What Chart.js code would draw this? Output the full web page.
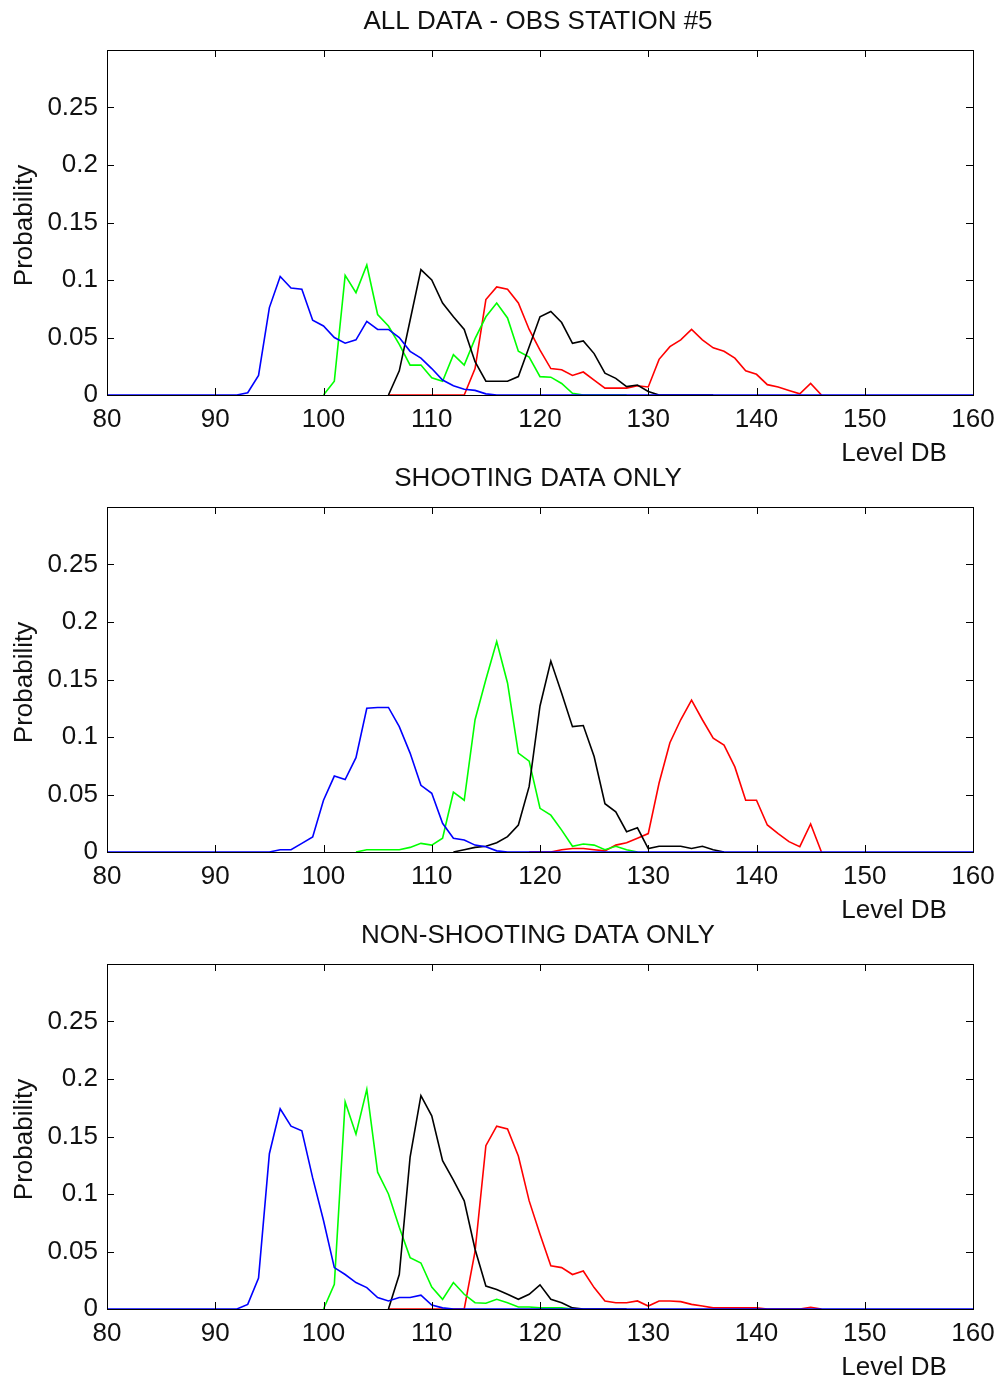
<!DOCTYPE html>
<html>
<head>
<meta charset="utf-8">
<title>Level DB probability - OBS station #5</title>
<script src="https://cdn.jsdelivr.net/npm/chart.js@4.4.1/dist/chart.umd.min.js"></script>
<style>
    body { margin: 0; background: #fff; }
    .painel { position: absolute; left: 0; width: 1000px; height: 466px; }
    canvas { display: block; }
</style>
</head>
<body>
<div class="painel" style="top: 0px"><canvas id="chartAll" width="1000" height="466"></canvas></div>
<div class="painel" style="top: 457px"><canvas id="chartShooting" width="1000" height="466"></canvas></div>
<div class="painel" style="top: 914px"><canvas id="chartNonShooting" width="1000" height="466"></canvas></div>
<script>
// eixos
const dbRange = [80, 160]
const dbTicks = [80, 90, 100, 110, 120, 130, 140, 150, 160]
const probRange = [0, 0.3]
const probTicks = [0, 0.05, 0.1, 0.15, 0.2, 0.25]
const probTickLabels = ['0', '0.05', '0.1', '0.15', '0.2', '0.25']
const panelTitles = ['ALL DATA - OBS STATION #5', 'SHOOTING DATA ONLY', 'NON-SHOOTING DATA ONLY']
const xLabel = 'Level DB'
const yLabel = 'Probability'

// all data (1 dB steps, starting at *Start)
const allBlueStart = 92
const allBlue = [0, 0.002, 0.017, 0.076, 0.103, 0.093, 0.092, 0.065, 0.060, 0.050, 0.045, 0.048, 0.064, 0.057, 0.057, 0.050, 0.038, 0.032, 0.023, 0.013, 0.008, 0.005, 0.004, 0.001, 0]
const allGreenStart = 100
const allGreen = [0, 0.012, 0.104, 0.089, 0.113, 0.070, 0.060, 0.044, 0.026, 0.026, 0.015, 0.012, 0.035, 0.026, 0.049, 0.068, 0.080, 0.067, 0.038, 0.033, 0.016, 0.0155, 0.010, 0.0015, 0, 0, 0, 0, 0]
const allBlackStart = 106
const allBlack = [0, 0.021, 0.065, 0.109, 0.100, 0.080, 0.068, 0.057, 0.029, 0.012, 0.012, 0.012, 0.016, 0.042, 0.068, 0.0726, 0.063, 0.045, 0.047, 0.036, 0.019, 0.0145, 0.0073, 0.0087, 0.003, 0, 0, 0, 0, 0, 0]
const allRedStart = 106
const allRed = [0, 0, 0, 0, 0, 0, 0, 0, 0.023, 0.083, 0.094, 0.092, 0.080, 0.057, 0.039, 0.023, 0.022, 0.017, 0.020, 0.013, 0.006, 0.006, 0.006, 0.008, 0.007, 0.031, 0.042, 0.048, 0.057, 0.048, 0.041, 0.038, 0.032, 0.021, 0.018, 0.009, 0.007, 0.004, 0.001, 0.010, 0]

// shooting data only
const shootBlueStart = 95
const shootBlue = [0, 0.002, 0.002, 0.0075, 0.013, 0.045, 0.066, 0.063, 0.082, 0.125, 0.1257, 0.1257, 0.109, 0.086, 0.058, 0.051, 0.025, 0.012, 0.0105, 0.006, 0.0046, 0.001, 0]
const shootGreenStart = 103
const shootGreen = [0, 0.002, 0.002, 0.002, 0.002, 0.004, 0.0075, 0.006, 0.012, 0.052, 0.045, 0.115, 0.150, 0.183, 0.147, 0.086, 0.079, 0.038, 0.032, 0.019, 0.005, 0.007, 0.006, 0.002, 0.005, 0.002, 0]
const shootBlackStart = 112
const shootBlack = [0, 0.002, 0.004, 0.005, 0.008, 0.0134, 0.0235, 0.057, 0.127, 0.166, 0.138, 0.109, 0.110, 0.083, 0.042, 0.035, 0.0177, 0.021, 0.003, 0.005, 0.005, 0.005, 0.003, 0.005, 0.002, 0]
const shootRedStart = 119
const shootRed = [0, 0, 0, 0.002, 0.003, 0.003, 0.002, 0.001, 0.006, 0.008, 0.012, 0.016, 0.060, 0.095, 0.115, 0.132, 0.115, 0.099, 0.093, 0.074, 0.045, 0.045, 0.0235, 0.016, 0.009, 0.0046, 0.0244, 0]

// non-shooting data only
const nonBlueStart = 92
const nonBlue = [0, 0.004, 0.027, 0.135, 0.174, 0.159, 0.155, 0.114, 0.077, 0.036, 0.030, 0.023, 0.0186, 0.010, 0.007, 0.010, 0.010, 0.012, 0.0035, 0.001, 0]
const nonGreenStart = 100
const nonGreen = [0, 0.0215, 0.180, 0.152, 0.191, 0.119, 0.100, 0.071, 0.0447, 0.040, 0.019, 0.0084, 0.023, 0.0128, 0.0055, 0.005, 0.0084, 0.0055, 0.0017, 0.0017, 0.001, 0.001, 0.001, 0]
const nonBlackStart = 106
const nonBlack = [0, 0.030, 0.132, 0.1855, 0.168, 0.129, 0.112, 0.094, 0.052, 0.020, 0.017, 0.0128, 0.0084, 0.0128, 0.021, 0.0084, 0.0055, 0.001, 0, 0, 0, 0, 0]
const nonRedStart = 106
const nonRed = [0, 0, 0, 0, 0, 0, 0, 0, 0.050, 0.142, 0.159, 0.1565, 0.133, 0.094, 0.065, 0.0375, 0.036, 0.030, 0.033, 0.0186, 0.007, 0.0055, 0.0055, 0.007, 0.0026, 0.007, 0.007, 0.0064, 0.004, 0.0026, 0.001, 0.001, 0.001, 0.001, 0.001, 0, 0, 0, 0, 0.0015, 0]

const fonte = "'Liberation Sans', Arial, Helvetica, sans-serif"
const corTexto = '#111'

function pontos(start, values) {
    return values.map((p, i) => ({ x: start + i, y: p }))
}

// blue runs along zero over the whole level range
function pontosAzul(start, values) {
    return [{ x: dbRange[0], y: 0 }, ...pontos(start, values), { x: dbRange[1], y: 0 }]
}

function serie(cor, data) {
    return {
        data: data,
        borderColor: cor,
        backgroundColor: cor,
        borderWidth: 1.6,
        pointRadius: 0,
        tension: 0,
        fill: false
    }
}

// caixa, ticks para dentro e textos no estilo matlab
const matlabAxes = {
    id: 'matlabAxes',
    afterDraw(chart, args, opts) {
        const ctx = chart.ctx
        const area = chart.chartArea
        const sx = chart.scales.x
        const sy = chart.scales.y
        const tl = 7
        ctx.save()
        ctx.strokeStyle = '#000'
        ctx.lineWidth = 1
        ctx.beginPath()
        dbTicks.forEach(v => {
            const px = Math.round(sx.getPixelForValue(v)) + 0.5
            ctx.moveTo(px, area.bottom)
            ctx.lineTo(px, area.bottom - tl)
            ctx.moveTo(px, area.top)
            ctx.lineTo(px, area.top + tl)
        })
        probTicks.forEach(v => {
            const py = Math.round(sy.getPixelForValue(v)) + 0.5
            ctx.moveTo(area.left, py)
            ctx.lineTo(area.left + tl, py)
            ctx.moveTo(area.right, py)
            ctx.lineTo(area.right - tl, py)
        })
        ctx.stroke()
        ctx.strokeRect(Math.round(area.left) + 0.5, Math.round(area.top) + 0.5,
            Math.round(area.right - area.left), Math.round(area.bottom - area.top))

        ctx.fillStyle = corTexto
        ctx.font = '26px ' + fonte
        ctx.textAlign = 'center'
        ctx.textBaseline = 'middle'
        ctx.fillText(opts.title, (area.left + area.right) / 2 - 2, 22)
        ctx.fillText(xLabel, 894, 454)

        ctx.translate(25, (area.top + area.bottom) / 2 + 3)
        ctx.rotate(-Math.PI / 2)
        ctx.fillText(yLabel, 0, 0)
        ctx.restore()
    }
}

function criarGrafico(canvasId, titulo, datasets) {
    const ctx = document.getElementById(canvasId).getContext('2d')
    return new Chart(ctx, {
        type: 'line',
        data: { datasets: datasets },
        plugins: [matlabAxes],
        options: {
            responsive: false,
            animation: false,
            devicePixelRatio: 1,
            events: [],
            layout: {
                padding: { top: 50, right: 27, bottom: 0, left: 0 }
            },
            scales: {
                x: {
                    type: 'linear',
                    min: dbRange[0],
                    max: dbRange[1],
                    grid: { display: false, drawTicks: false },
                    border: { display: false },
                    afterBuildTicks: scale => {
                        scale.ticks = dbTicks.map(v => ({ value: v }))
                    },
                    afterFit: scale => {
                        scale.height = 71
                        // a caixa fica fixa, o rotulo 160 pode passar da borda
                        scale.paddingLeft = 0
                        scale.paddingRight = 0
                    },
                    ticks: {
                        padding: 9,
                        maxRotation: 0,
                        autoSkip: false,
                        color: corTexto,
                        font: { family: fonte, size: 26 },
                        callback: value => String(value)
                    }
                },
                y: {
                    min: probRange[0],
                    max: probRange[1],
                    grid: { display: false, drawTicks: false },
                    border: { display: false },
                    afterBuildTicks: scale => {
                        scale.ticks = probTicks.map(v => ({ value: v }))
                    },
                    afterFit: scale => {
                        scale.width = 107
                        scale.paddingTop = 0
                        scale.paddingBottom = 0
                    },
                    ticks: {
                        padding: 9,
                        color: corTexto,
                        font: { family: fonte, size: 26 },
                        callback: (value, index) => probTickLabels[index]
                    }
                }
            },
            plugins: {
                legend: { display: false },
                tooltip: { enabled: false },
                title: { display: false },
                matlabAxes: { title: titulo }
            }
        }
    })
}

// azul por cima, depois preto, verde e vermelho
criarGrafico('chartAll', panelTitles[0], [
    serie('#0000ff', pontosAzul(allBlueStart, allBlue)),
    serie('#000000', pontos(allBlackStart, allBlack)),
    serie('#00ff00', pontos(allGreenStart, allGreen)),
    serie('#ff0000', pontos(allRedStart, allRed))
])

criarGrafico('chartShooting', panelTitles[1], [
    serie('#0000ff', pontosAzul(shootBlueStart, shootBlue)),
    serie('#000000', pontos(shootBlackStart, shootBlack)),
    serie('#00ff00', pontos(shootGreenStart, shootGreen)),
    serie('#ff0000', pontos(shootRedStart, shootRed))
])

criarGrafico('chartNonShooting', panelTitles[2], [
    serie('#0000ff', pontosAzul(nonBlueStart, nonBlue)),
    serie('#000000', pontos(nonBlackStart, nonBlack)),
    serie('#00ff00', pontos(nonGreenStart, nonGreen)),
    serie('#ff0000', pontos(nonRedStart, nonRed))
])
</script>
</body>
</html>
